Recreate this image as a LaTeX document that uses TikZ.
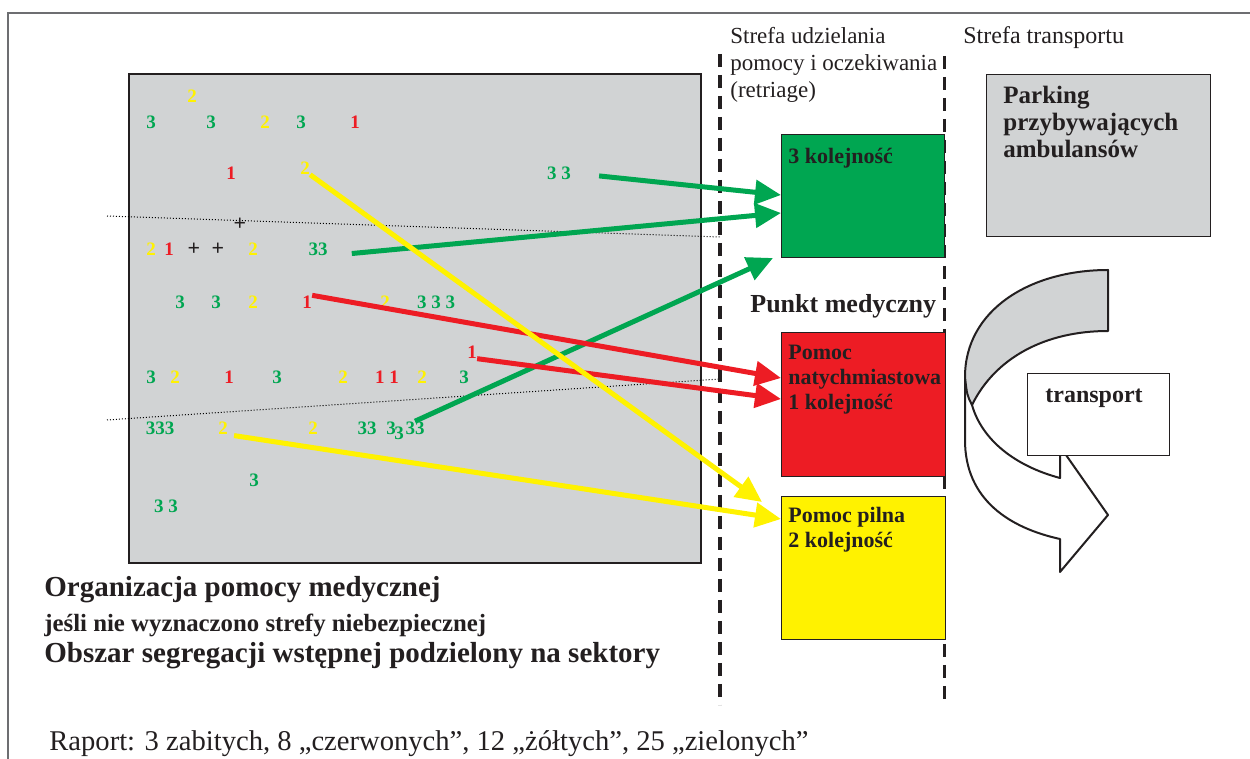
\documentclass[tikz,border=0pt]{standalone}
\usepackage{fontspec}
\setmainfont{Liberation Serif}
\usepackage{tikz}
\usetikzlibrary{arrows.meta}

\definecolor{grn}{HTML}{00A651}
\definecolor{rd}{HTML}{ED1C24}
\definecolor{ylw}{HTML}{FFF200}
\definecolor{gry}{HTML}{D1D3D4}
\definecolor{ink}{HTML}{231F20}
\definecolor{frm}{HTML}{6D6E71}

\tikzstyle{area} = [draw=ink, line width=0.8pt, fill=gry, anchor=north west, inner sep=0pt]
\tikzstyle{box} = [draw=ink, line width=0.6pt, anchor=north west, inner sep=0pt]
\tikzstyle{boxtext} = [font=\bfseries\fontsize{11}{12.5}\selectfont, text=ink, anchor=base west, align=left, inner sep=0pt]
\tikzstyle{zonetext} = [font=\fontsize{12}{13.5}\selectfont, text=ink, anchor=base west, align=left, inner sep=0pt]
\tikzstyle{title} = [font=\bfseries\fontsize{14.5}{14.5}\selectfont, text=ink, anchor=base west, inner sep=0pt]
\tikzstyle{num} = [font=\bfseries\fontsize{9.5}{9.5}\selectfont, inner sep=0pt]
\tikzstyle{zone} = [draw=ink, dash pattern=on 6.5pt off 4pt]
\tikzstyle{sector} = [draw=black, line width=0.5pt, dash pattern=on 0.5pt off 1pt]
\tikzstyle{arrow} = [line width=2.5pt, -{Triangle[length=13pt,width=12pt]}]
\tikzstyle{curvearrow} = [draw=ink, line width=1pt, line join=round]

\begin{document}
\begin{tikzpicture}[x=0.5pt, y=-0.5pt]
  \useasboundingbox (0,0) rectangle (1250,759);
  \draw[frm, line width=1pt] (1250,13) -- (8,13) -- (8,759);

  % obszar segregacji
  \node[area, minimum width=286pt, minimum height=244.5pt] (segr) at (128,73) {};
  \draw[sector] (107,216) -- (720,237);
  \draw[sector] (107,420) -- (720,379);

  \foreach \x/\y/\t/\c [count=\i] in {192/96/2/ylw, 151/122/3/grn, 211/122/3/grn, 265/122/2/ylw, 301/122/3/grn, 355/122/1/rd,
      231/173/1/rd,
      151/249/2/ylw, 169/249/1/rd, 253/249/2/ylw,
      180/302/3/grn, 216/302/3/grn, 253/302/2/ylw, 385/302/2/ylw, 436/302/3 3 3/grn,
      151/377/3/grn, 175/377/2/ylw, 229/377/1/rd, 277/377/3/grn, 343/377/2/ylw, 387/377/1 1/rd, 422/377/2/ylw, 464/377/3/grn,
      160/428/333/grn, 313/428/2/ylw, 367/428/33/grn, 391/428/3/grn, 399/433/3/grn,
      254/480/3/grn, 166/506/3 3/grn}
    \node[num, text=\c] (n\i) at (\x,\y) {\t};
  \foreach \x/\y [count=\i] in {240/224, 194/249, 218/249}
    \node[num, font=\bfseries\fontsize{11}{11}\selectfont, text=ink] (plus\i) at (\x,\y) {+};
  \node[num, text=ylw] (y2a) at (305,168) {2};
  \node[num, text=grn] (g33a) at (559,173) {3 3};
  \node[num, text=grn] (g33b) at (318,249) {33};
  \node[num, text=rd] (r1a) at (307,302) {1};
  \node[num, text=rd] (r1b) at (472,352) {1};
  \node[num, text=ylw] (y2b) at (223,428) {2};
  \node[num, text=grn] (g33c) at (415,428) {33};

  % strefy
  \draw[zone, line width=2pt] (720,54) -- (720,705);
  \draw[zone, line width=1.5pt] (944,56) -- (944,700);
  \node[zonetext, font=\fontsize{11.5}{13.5}\selectfont] (strefa1) at (730,98) {Strefa udzielania\\pomocy i oczekiwania\\(retriage)};
  \node[zonetext] (strefa2) at (963,44) {Strefa transportu};

  % punkt medyczny
  \node[box, fill=grn, minimum width=81.5pt, minimum height=61.5pt] (green) at (781,134) {};
  \node[boxtext] at (788,164) {3 kolejność};
  \node[font=\bfseries\fontsize{13}{13}\selectfont, text=ink, anchor=base west, inner sep=0pt] (punkt) at (750,313) {Punkt medyczny};
  \node[box, fill=rd, minimum width=82pt, minimum height=72pt] (red) at (781,332) {};
  \node[boxtext] at (788,410) {Pomoc\\natychmiastowa\\1 kolejność};
  \node[box, fill=ylw, minimum width=82pt, minimum height=71.5pt] (yellow) at (781,496) {};
  \node[boxtext] at (788,548) {Pomoc pilna\\2 kolejność};

  % transport
  \node[area, line width=0.6pt, minimum width=112pt, minimum height=81pt] (parking) at (986,74) {};
  \node[boxtext, font=\bfseries\fontsize{12.5}{13.5}\selectfont] at (1003,158) {Parking\\przybywających\\ambulansów};
  \filldraw[curvearrow, fill=white] (965,377) -- (965,440) .. controls (965,500) and (1010,528) .. (1060,539) -- (1060,572) -- (1108,515) -- (1066,455) -- (1060,455) -- (1060,478) .. controls (1015,466) and (982,440) .. (972,405) -- cycle;
  \filldraw[curvearrow, fill=gry] (965,377) .. controls (965,310) and (1030,270) .. (1108,270) -- (1108,331) .. controls (1045,331) and (995,358) .. (972,405) .. controls (967,395) .. (965,377) -- cycle;
  \node[box, fill=white, minimum width=71pt, minimum height=41pt] (trans) at (1027,373) {};
  \node[boxtext, font=\bfseries\fontsize{12}{12}\selectfont] at (1045,403) {transport};

  % kierowanie poszkodowanych
  \coordinate (gin1) at (781,195);
  \coordinate (gin2) at (781,213);
  \coordinate (gin3) at (773,258);
  \coordinate (rin1) at (781,378);
  \coordinate (rin2) at (781,399);
  \coordinate (yin1) at (762,502);
  \coordinate (yin2) at (781,519);
  \draw[arrow, grn, shorten <=14pt] (g33a.east) -- (gin1);
  \draw[arrow, grn, shorten <=12pt] (g33b.south east) -- (gin2);
  \draw[arrow, grn] (g33c.north) -- (gin3);
  \draw[arrow, rd] (r1a.north east) -- (rin1);
  \draw[arrow, rd] (r1b.south east) -- (rin2);
  \draw[arrow, ylw] (y2a.south east) -- (yin1);
  \draw[arrow, ylw, shorten <=3pt] (y2b.south east) -- (yin2);

  \node[title] (org) at (44,597) {Organizacja pomocy medycznej};
  \node[title, font=\bfseries\fontsize{12.4}{12.4}\selectfont] (jesli) at (44,632) {jeśli nie wyznaczono strefy niebezpiecznej};
  \node[title] (obszar) at (44,663) {Obszar segregacji wstępnej podzielony na sektory};
  \node[title, font=\fontsize{14.3}{14.3}\selectfont] (raport) at (49,750) {Raport: 3 zabitych, 8 „czerwonych”, 12 „żółtych”, 25 „zielonych”};
\end{tikzpicture}
\end{document}
